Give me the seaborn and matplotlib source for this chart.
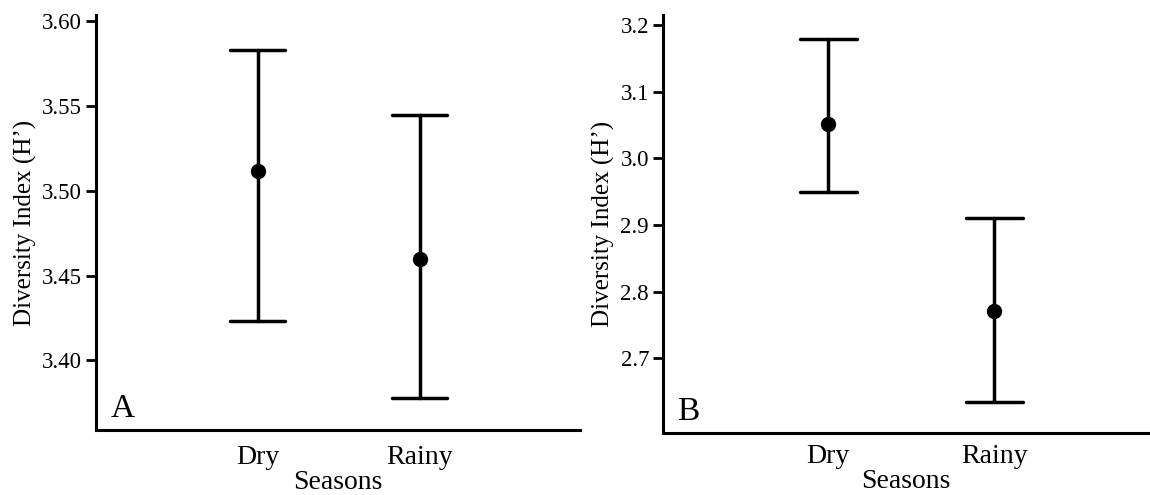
import matplotlib
matplotlib.use("Agg")
import matplotlib.pyplot as plt
import seaborn as sns
import pandas as pd

seasons = ["Dry", "Rainy"]
# Panel A: mean and error bar bounds
a_mean = [3.512, 3.460]
a_low = [3.423, 3.378]
a_high = [3.583, 3.545]
# Panel B
b_mean = [3.052, 2.771]
b_low = [2.950, 2.635]
b_high = [3.179, 2.910]

a_ticks = [3.40, 3.45, 3.50, 3.55, 3.60]
a_ticklabels = ["3.40", "3.45", "3.50", "3.55", "3.60"]
b_ticks = [2.7, 2.8, 2.9, 3.0, 3.1, 3.2]
b_ticklabels = ["2.7", "2.8", "2.9", "3.0", "3.1", "3.2"]

sns.set_style("white")
plt.rcParams["font.family"] = ["Liberation Serif", "DejaVu Serif"]
plt.rcParams["text.color"] = "black"
plt.rcParams["axes.labelcolor"] = "black"
plt.rcParams["xtick.color"] = "black"
plt.rcParams["ytick.color"] = "black"


def make_df(mean, low, high):
    rows = []
    for s, m, lo, hi in zip(seasons, mean, low, high):
        for v in (lo, m, hi):
            rows.append({"Season": s, "H": v})
    return pd.DataFrame(rows)


fig = plt.figure(figsize=(11.5, 4.95), dpi=100)
axA = fig.add_axes([96 / 1150, 65 / 495, (580 - 96) / 1150, (430 - 15) / 495])
axB = fig.add_axes([663 / 1150, 62 / 495, (1148 - 663) / 1150, (433 - 15) / 495])

panels = [
    (axA, make_df(a_mean, a_low, a_high), (3.359, 3.6037), a_ticks, a_ticklabels, "A", (-1.0, 1.99), 11),
    (axB, make_df(b_mean, b_low, b_high), (2.588, 3.215), b_ticks, b_ticklabels, "B", (-0.996, 1.926), 8),
]

for ax, df, ylim, ticks, tlabels, letter, xlim, xpad in panels:
    sns.pointplot(
        data=df, x="Season", y="H", order=seasons,
        estimator="median", errorbar=("pi", 100),
        color="black", linestyle="none", marker="o", markersize=9,
        capsize=0.34, err_kws={"linewidth": 2.5}, ax=ax,
    )
    ax.set_xlim(*xlim)
    ax.set_ylim(*ylim)
    ax.set_yticks(ticks)
    ax.set_yticklabels(tlabels, fontsize=16.5, color="black")
    ax.tick_params(axis="y", direction="out", length=7, width=2, pad=3, left=True, colors="black")
    ax.tick_params(axis="x", length=0, pad=xpad, labelsize=20, colors="black")
    for side in ("top", "right"):
        ax.spines[side].set_visible(False)
    for side in ("left", "bottom"):
        ax.spines[side].set_linewidth(2.2)
        ax.spines[side].set_color("black")
    ax.set_xlabel("Seasons", fontsize=20, labelpad=0, color="black")
    ax.set_ylabel("Diversity Index (H\u2019)", fontsize=18, color="black")
    ax.text(0.03, 0.015, letter, transform=ax.transAxes, fontsize=24,
            ha="left", va="bottom", color="black")

fig.savefig("out.png", dpi=100)
